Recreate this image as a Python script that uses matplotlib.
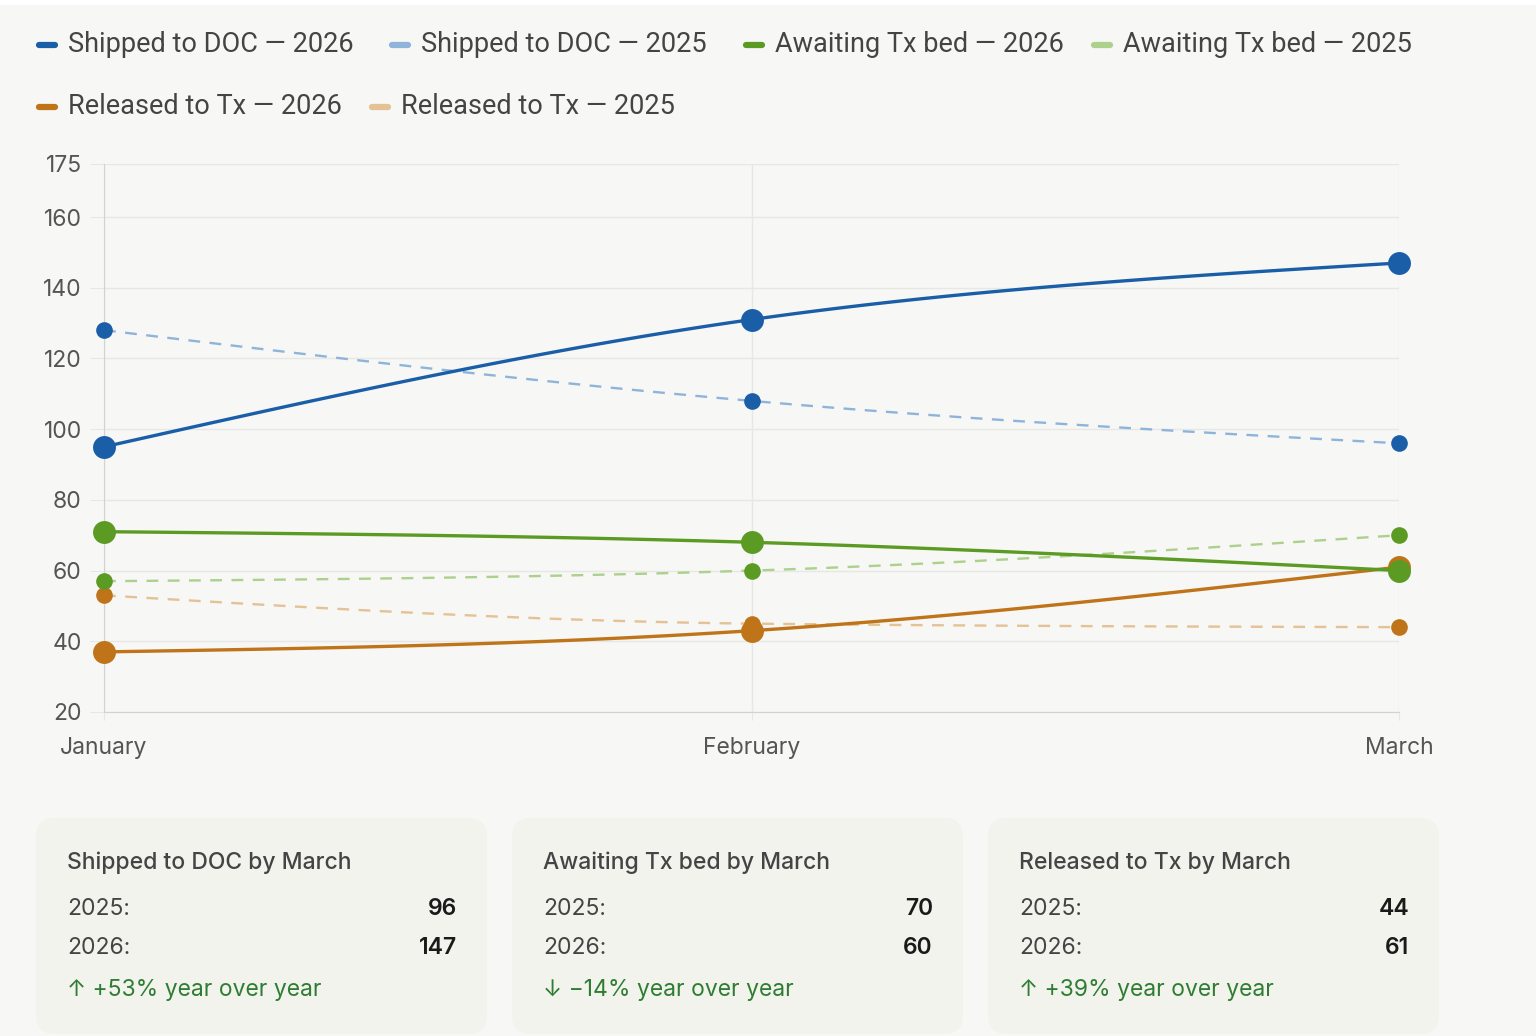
import numpy as np
import matplotlib
matplotlib.use("Agg")
import matplotlib.pyplot as plt
from matplotlib.lines import Line2D
from matplotlib.patches import FancyBboxPatch, Rectangle

months = ["January", "February", "March"]

shipped_2026 = [95, 131, 147]
shipped_2025 = [128, 108, 96]
awaiting_2026 = [71, 68, 60]
awaiting_2025 = [57, 60, 70]
released_2026 = [37, 43, 61]
released_2025 = [53, 45, 44]

y_ticks = [20, 40, 60, 80, 100, 120, 140, 160, 175]

card_titles = ["Shipped to DOC by March", "Awaiting Tx bed by March", "Released to Tx by March"]

dark = {"ship": "#1a5ea8", "await": "#5b9b24", "rel": "#bf7419"}
light = {"ship": "#8fb4da", "await": "#add08c", "rel": "#e4c295"}

W, H = 1536, 1036
BG = "#f7f7f5"
CARD = "#f3f3ed"


def monotone(xs, ys, n=60):
    # d3 curveMonotoneX style interpolation, just for drawing the curve
    xs = np.asarray(xs, float)
    ys = np.asarray(ys, float)
    h = np.diff(xs)
    s = np.diff(ys) / h
    t = np.zeros(len(xs))
    for i in range(1, len(xs) - 1):
        p = (s[i - 1] * h[i] + s[i] * h[i - 1]) / (h[i - 1] + h[i])
        t[i] = (np.sign(s[i - 1]) + np.sign(s[i])) * min(abs(s[i - 1]), abs(s[i]), 0.5 * abs(p))
    t[0] = (3 * s[0] - t[1]) / 2 if len(xs) > 2 else s[0]
    t[-1] = (3 * s[-1] - t[-2]) / 2 if len(xs) > 2 else s[-1]
    px, py = [], []
    for i in range(len(xs) - 1):
        u = np.linspace(0, 1, n)
        h00 = 2 * u**3 - 3 * u**2 + 1
        h10 = u**3 - 2 * u**2 + u
        h01 = -2 * u**3 + 3 * u**2
        h11 = u**3 - u**2
        px.extend(xs[i] + u * h[i])
        py.extend(h00 * ys[i] + h10 * h[i] * t[i] + h01 * ys[i + 1] + h11 * h[i] * t[i + 1])
    return np.array(px), np.array(py)


plt.rcParams["font.family"] = ["Inter", "DejaVu Sans"]

fig = plt.figure(figsize=(W / 100, H / 100), dpi=100)
fig.patch.set_facecolor("white")
fig.add_artist(Rectangle((0, 0), 1, 1 - 5 / H, transform=fig.transFigure,
                         facecolor=BG, edgecolor="none", zorder=-10))

ax = fig.add_axes([104 / W, 1 - 712 / H, (1399 - 104) / W, (712 - 164) / H])
ax.set_facecolor("none")
x = np.arange(len(months))

series = [
    (released_2025, "rel", False, "Released to Tx — 2025"),
    (awaiting_2025, "await", False, "Awaiting Tx bed — 2025"),
    (shipped_2025, "ship", False, "Shipped to DOC — 2025"),
    (released_2026, "rel", True, "Released to Tx — 2026"),
    (awaiting_2026, "await", True, "Awaiting Tx bed — 2026"),
    (shipped_2026, "ship", True, "Shipped to DOC — 2026"),
]
for k, (vals, key, is_new, label) in enumerate(series):
    cx, cy = monotone(x, vals)
    z = 3 + k
    if is_new:
        ax.plot(cx, cy, color=dark[key], lw=2.4, solid_capstyle="round", zorder=z, clip_on=False)
        ax.plot(x, vals, "o", color=dark[key], ms=16.5, mew=0, zorder=z, clip_on=False)
    else:
        ax.plot(cx, cy, color=light[key], lw=1.7, dashes=(5, 4), zorder=z, clip_on=False)
        ax.plot(x, vals, "o", color=dark[key], ms=12, mew=0, zorder=z, clip_on=False)

ax.set_xlim(0, 2)
ax.set_ylim(20, 175)
ax.set_xticks(x)
ax.set_xticklabels(months)
ax.set_yticks(y_ticks)
ax.grid(True, color="#e7e7e5", lw=1)
ax.set_axisbelow(True)
for side in ["top", "right"]:
    ax.spines[side].set_visible(False)
ax.spines["left"].set_color("#d2d2d0")
ax.spines["bottom"].set_color("#d2d2d0")
ax.tick_params(axis="y", length=10, color="#e7e7e5", pad=6, labelsize=16.5, labelcolor="#555555")
ax.tick_params(axis="x", length=6, color="#e7e7e5", pad=12, labelsize=16.5, labelcolor="#555555")

# legend drawn by hand in two rows
legend_rows = [
    [(36, "ship", True, "Shipped to DOC — 2026"), (389, "ship", False, "Shipped to DOC — 2025"),
     (743, "await", True, "Awaiting Tx bed — 2026"), (1091, "await", False, "Awaiting Tx bed — 2025")],
    [(36, "rel", True, "Released to Tx — 2026"), (369, "rel", False, "Released to Tx — 2025")],
]
for row_y, items in zip([45, 107], legend_rows):
    for px, key, is_new, label in items:
        col = dark[key] if is_new else light[key]
        fig.add_artist(Line2D([(px + 3) / W, (px + 19) / W], [1 - row_y / H] * 2, color=col,
                              lw=4.5, solid_capstyle="round", transform=fig.transFigure))
        fig.text((px + 32) / W, 1 - row_y / H, label, fontsize=19.5, color="#444444",
                 va="center", ha="left", family=["Roboto", "DejaVu Sans"])

# summary cards
pairs = [(shipped_2025, shipped_2026), (awaiting_2025, awaiting_2026), (released_2025, released_2026)]
card_lefts = [36, 512, 988]
fs = 16.5
for left, title, (old, new) in zip(card_lefts, card_titles, pairs):
    fig.add_artist(FancyBboxPatch((left / W, 1 - 1034 / H), 451 / W, (1034 - 818) / H,
                                  boxstyle="round,pad=0,rounding_size=0.012",
                                  transform=fig.transFigure, facecolor=CARD, edgecolor="none",
                                  mutation_aspect=W / H))
    tx = (left + 31) / W
    rx = (left + 421) / W
    fig.text(tx, 1 - 863 / H, title, fontsize=fs, color="#444444", fontweight="medium", va="center")
    fig.text(tx, 1 - 909 / H, "2025:", fontsize=fs, color="#444444", va="center")
    fig.text(tx, 1 - 948 / H, "2026:", fontsize=fs, color="#444444", va="center")
    fig.text(rx, 1 - 909 / H, str(old[-1]), fontsize=fs, color="#1a1a1a", fontweight="semibold",
             va="center", ha="right")
    fig.text(rx, 1 - 948 / H, str(new[-1]), fontsize=fs, color="#1a1a1a", fontweight="semibold",
             va="center", ha="right")
    pct = round((new[-1] - old[-1]) / old[-1] * 100)
    arrow = "↑" if pct >= 0 else "↓"
    sign = "+" if pct >= 0 else "−"
    fig.text(tx, 1 - 990 / H, f"{arrow} {sign}{abs(pct)}% year over year", fontsize=fs,
             color="#2f7d32", va="center", family=["Inter", "DejaVu Sans"])

fig.savefig("out.png", dpi=100, facecolor=fig.get_facecolor())
